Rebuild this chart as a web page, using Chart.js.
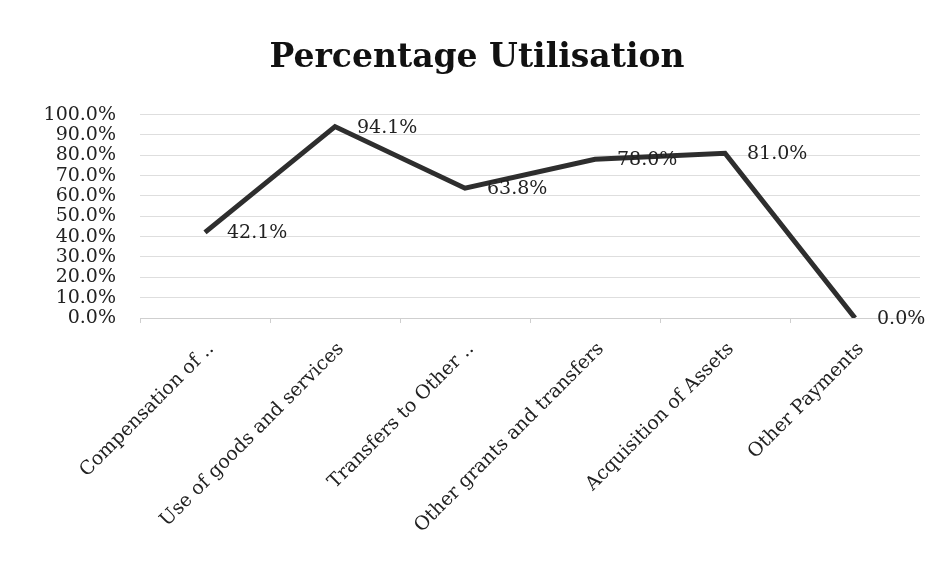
<!DOCTYPE html>
<html>
<head>
<meta charset="utf-8">
<script src="https://cdn.jsdelivr.net/npm/chart.js@4.4.1/dist/chart.umd.min.js"></script>
<style>
  html, body { margin: 0; padding: 0; background: #fff; }
  #wrap { width: 937px; height: 567px; }
</style>
</head>
<body>
<div id="wrap"><canvas id="chart" width="937" height="567"></canvas></div>
<script>
const categories = [
    'Compensation of ..',
    'Use of goods and services',
    'Transfers to Other ..',
    'Other grants and transfers',
    'Acquisition of Assets',
    'Other Payments'
];
const utilisation = [42.1, 94.1, 63.8, 78.0, 81.0, 0.0];
const yTicks = [0, 10, 20, 30, 40, 50, 60, 70, 80, 90, 100];

const serif = "'DejaVu Serif', 'Liberation Serif', serif";

// labels to the right of each point, like Excel "Right" position
const pointLabels = {
    id: 'pointLabels',
    afterDatasetsDraw(chart) {
        const ctx = chart.ctx;
        const meta = chart.getDatasetMeta(0);
        ctx.save();
        ctx.font = `19px ${serif}`;
        ctx.fillStyle = '#222';
        ctx.textAlign = 'left';
        ctx.textBaseline = 'middle';
        meta.data.forEach((pt, i) => {
            ctx.fillText(utilisation[i].toFixed(1) + '%', pt.x + 22, pt.y + 1);
        });
        ctx.restore();
    }
};

new Chart(document.getElementById('chart').getContext('2d'), {
    type: 'line',
    data: {
        labels: categories,
        datasets: [{
            data: utilisation,
            borderColor: '#2e2e2e',
            borderWidth: 5,
            pointRadius: 0,
            tension: 0,
            fill: false
        }]
    },
    options: {
        responsive: false,
        animation: false,
        layout: { padding: { top: 22, left: 34, right: 17, bottom: 0 } },
        plugins: {
            legend: { display: false },
            tooltip: { enabled: false },
            title: {
                display: true,
                text: 'Percentage Utilisation',
                color: '#111',
                font: { family: serif, size: 33, weight: 'bold' },
                padding: { top: 17, bottom: 36 }
            }
        },
        scales: {
            x: {
                offset: true,
                grid: { display: true, drawOnChartArea: false, offset: true, tickLength: 5, color: '#cfcfcf' },
                border: { color: '#cfcfcf' },
                ticks: {
                    color: '#222',
                    font: { family: serif, size: 19 },
                    maxRotation: 45,
                    minRotation: 45,
                    padding: 15,
                    labelOffset: 6,
                    autoSkip: false
                },
                afterFit(scale) { scale.height = 249; }
            },
            y: {
                min: 0,
                max: 100,
                afterBuildTicks(scale) { scale.ticks = yTicks.map(v => ({ value: v })); },
                grid: { color: '#dedede', drawTicks: false },
                border: { display: false },
                ticks: {
                    color: '#222',
                    font: { family: serif, size: 19, lineHeight: 1 },
                    padding: 24,
                    autoSkip: false,
                    callback: v => v.toFixed(1) + '%'
                },
                afterFit(scale) { scale.width = 106; }
            }
        }
    },
    plugins: [pointLabels]
});
</script>
</body>
</html>
